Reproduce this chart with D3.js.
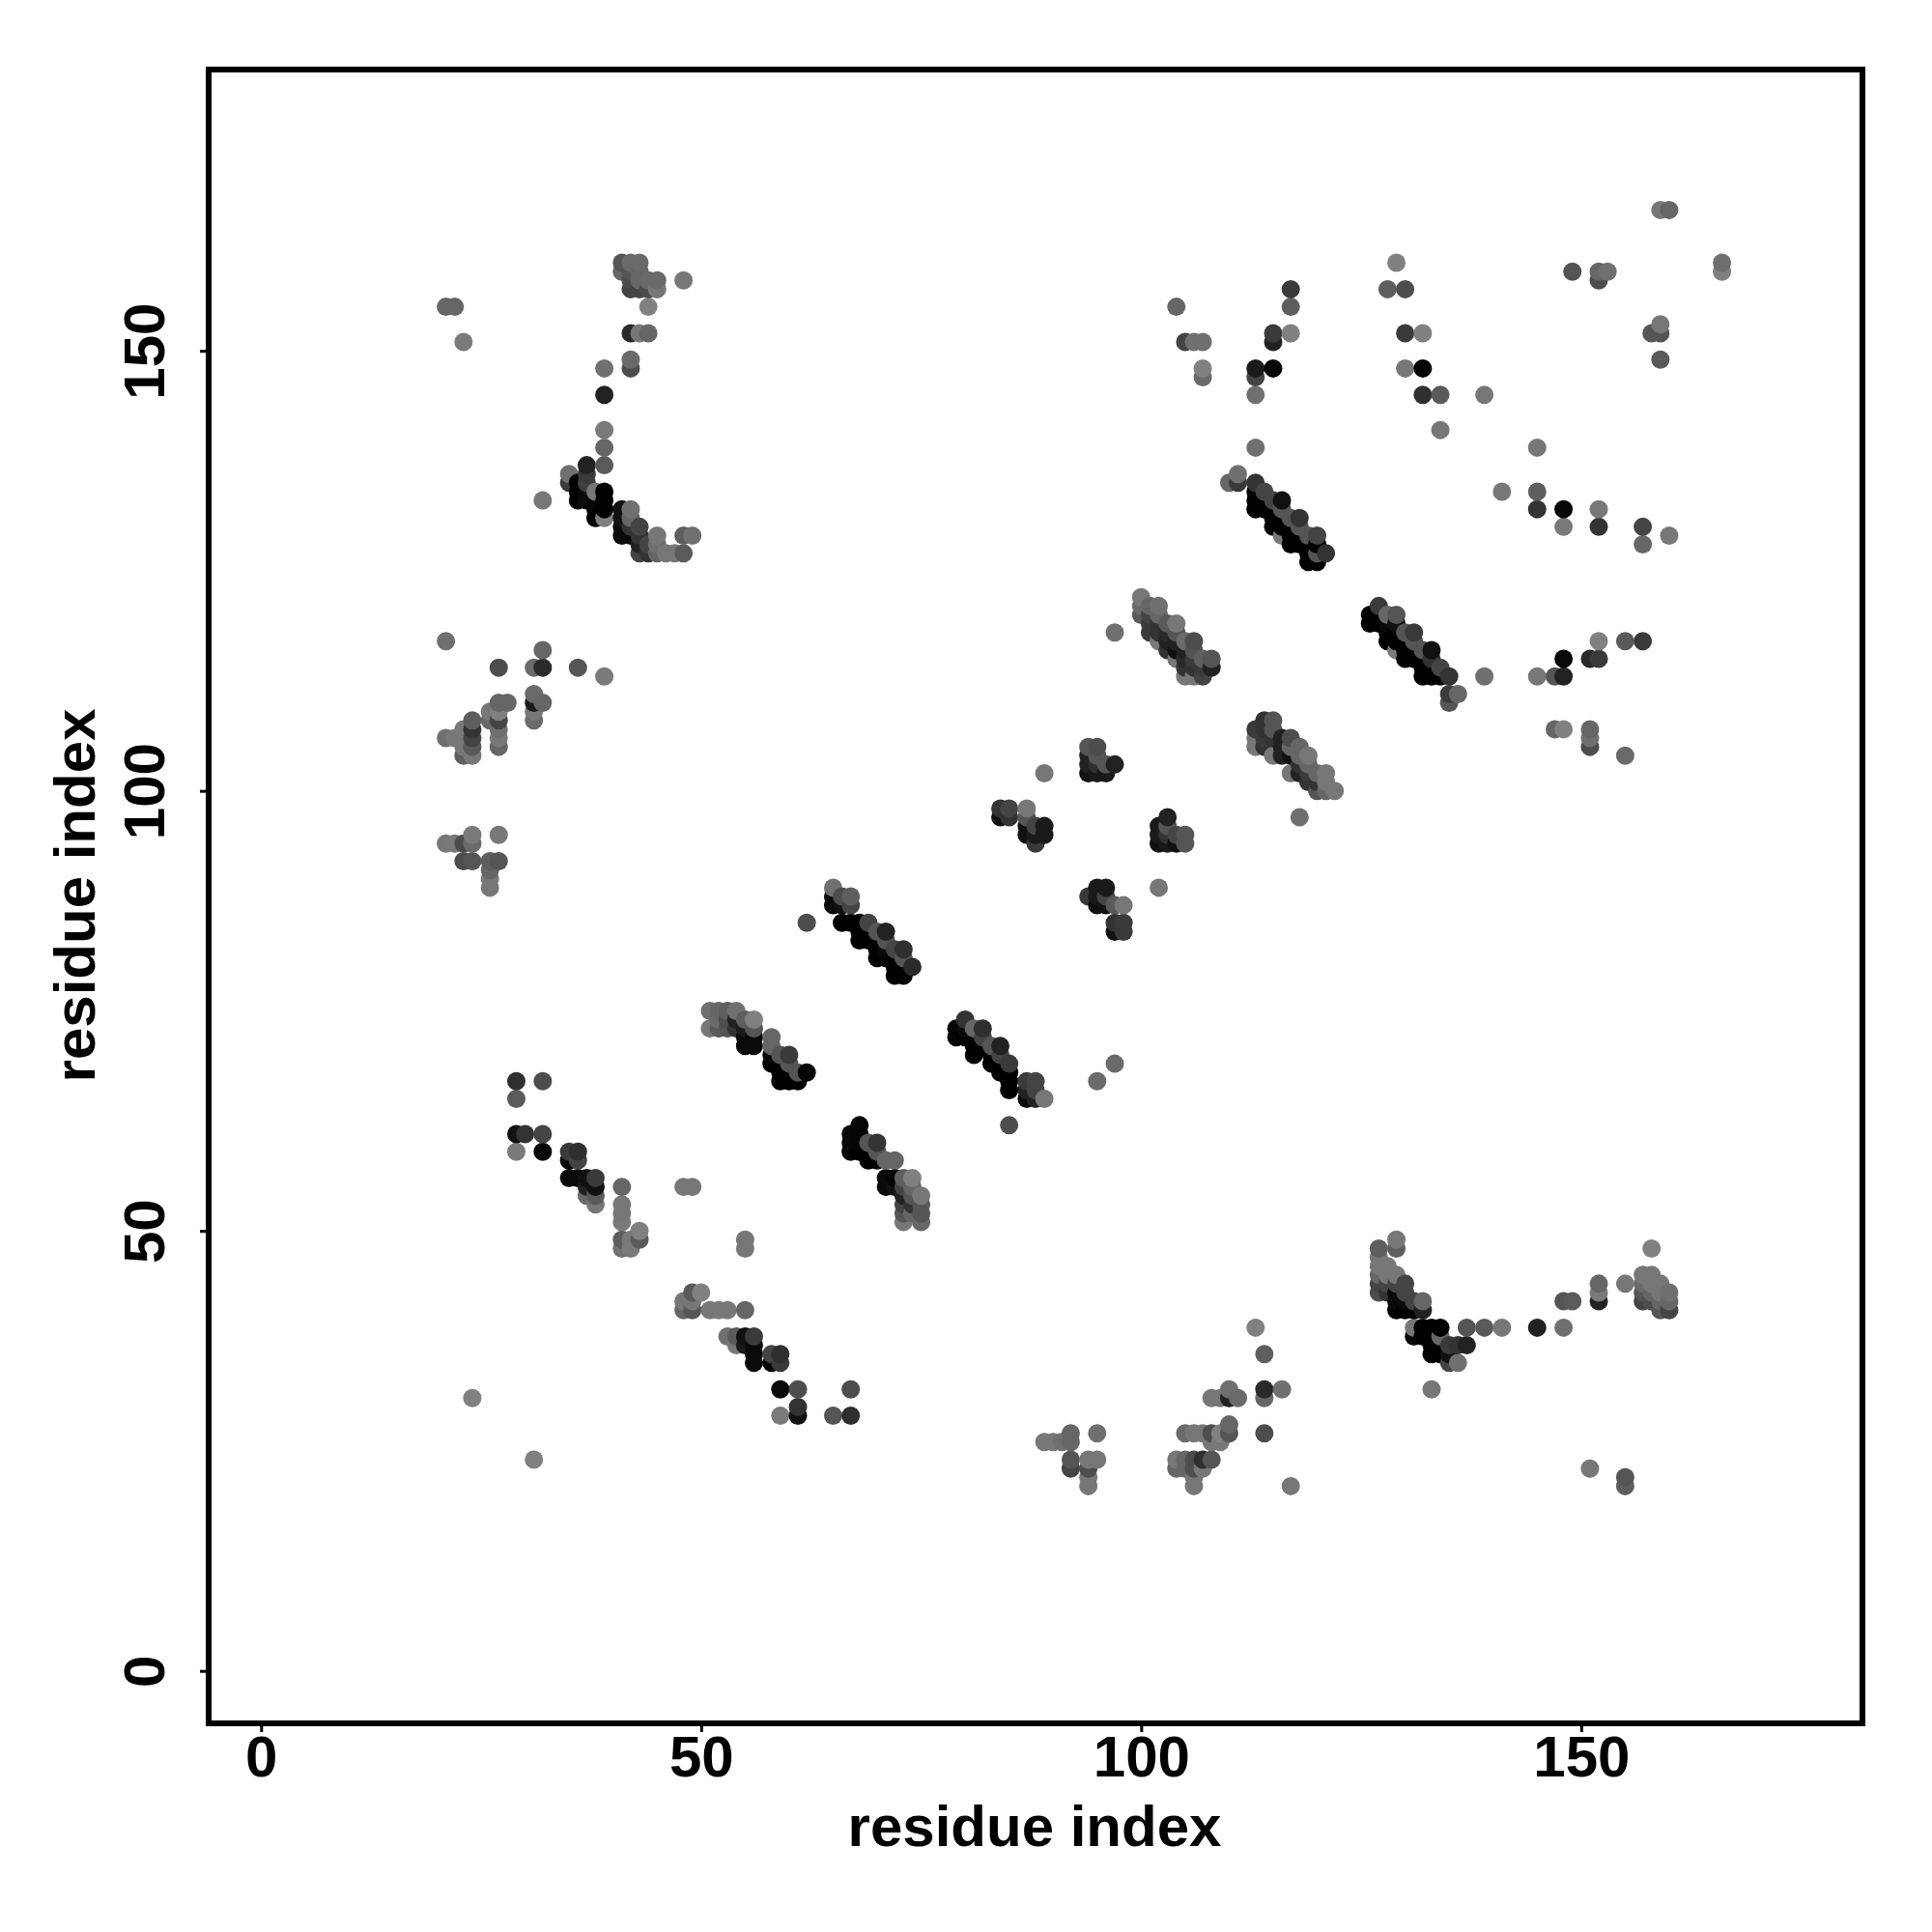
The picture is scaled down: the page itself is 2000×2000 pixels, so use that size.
<!DOCTYPE html>
<html>
<head>
<meta charset="utf-8">
<script src="https://cdn.jsdelivr.net/npm/d3@7/dist/d3.min.js"></script>
<style>html,body{margin:0;padding:0;background:#fff}svg{display:block}</style>
</head>
<body>
<svg id="chart" width="2000" height="2000"></svg>
<script>
// Each contact: [residue x, residue y, grey level]
const xTicks = [0, 50, 100, 150];
const yTicks = [0, 50, 100, 150];
const xTitle = "residue index";
const yTitle = "residue index";
const usrRange = [-5.96, 181.96];

const topLeft = [[21,155,102],[22,155,102],[23,151,122],
[41,160,85],[42,160,106],[43,160,106],[41,159,102],[42,159,85],[43,159,102],[42,158,77],[43,158,102],[44,158,106],[45,158,106],[42,157,68],[43,157,68],[44,157,77],[45,157,119],[48,158,119],
[44,155,128],[42,152,42],[43,152,119],[44,152,102],[42,149,106],[42,148,77],[39,148,112],[39,145,34],[39,141,122],[39,139,102],[39,137,90],
[37,137,34],[37,136,58],[37,135,63],[35,136,112],[35,135,58],[36,135,0],[36,134,0],[36,133,5],[37,134,10],[37,133,10],[38,134,119],[38,133,5],[38,132,0],[38,131,0],
[39,134,0],[39,133,0],[39,132,0],[39,131,128],[32,133,119],
[41,132,17],[42,132,112],[41,131,17],[41,130,10],[41,129,10],[42,131,102],[42,130,51],[42,129,10],[43,130,68],[43,129,51],[43,128,34],[43,127,68],[44,128,68],[44,127,51],[45,129,119],[45,128,111],[45,127,102],[46,127,119],[47,127,119],[48,127,90],[48,129,94],[49,129,112]];

const leftMid = [[21,117,112],[27,114,77],[31,114,106],[32,114,42],[32,116,102],[36,114,85],[39,113,122],
[31,111,106],[31,110,26],[32,110,102],[31,109,119],[31,108,106],
[27,110,102],[28,110,102],[26,109,119],[27,109,128],[26,108,102],[27,108,68],[27,107,111],[27,106,119],[27,105,102],
[24,108,94],[24,107,51],[24,106,68],[24,105,90],[24,104,119],[23,107,122],[23,106,119],[23,105,119],[23,104,94],[21,106,111],[22,106,119],
[24,95,122],[27,95,119],[21,94,119],[22,94,122],[23,94,77],[24,94,106],[23,92,77],[24,92,85],[26,92,94],[27,92,85],[26,91,102],[26,90,119],[26,89,119]];

const lowerLeft = [[29,67,47],[32,67,77],[29,65,90],[29,61,17],[30,61,51],[32,61,68],[29,59,122],[32,59,8],
[35,59,58],[36,59,47],[35,58,0],[36,58,68],[35,56,10],[36,56,10],[37,56,17],[38,56,58],[37,55,34],[38,55,17],[37,54,106],[38,54,90],[38,53,119],
[41,55,102],[41,53,119],[41,52,119],[41,51,122],[41,49,94],[41,48,112],[42,49,122],[42,48,122],[43,50,128],[43,49,90],[48,55,119],[49,55,119],[55,49,119],[55,48,119],
[49,43,90],[50,43,128],[48,42,119],[49,42,119],[48,41,102],[49,41,85],[51,41,119],[52,41,119],[53,41,119],[55,41,102],
[53,38,112],[54,38,90],[55,38,17],[56,38,58],[54,37,119],[55,37,26],[56,37,10],[56,36,10],[56,35,10],[58,36,68],[59,36,47],[58,35,0],[59,35,58],
[59,32,10],[61,32,77],[67,32,77],[61,30,51],[59,29,122],[61,29,17],[65,29,85],[67,29,47],[24,31,128],[31,24,128]];

const bandA = [[51,75,111],[52,75,102],[53,75,94],[54,75,112],[51,73,119],[52,74,106],[52,73,90],[53,74,77],[53,73,85],[54,74,34],[54,73,51],[55,74,94],[56,74,128],[56,73,85],[55,73,26],[55,72,10],[55,71,10],[56,72,10],[56,71,10],
[58,72,102],[58,71,102],[58,70,10],[58,69,0],[59,70,85],[59,69,0],[59,68,0],[59,67,0],[60,70,58],[60,69,85],[60,68,0],[60,67,0],[61,68,85],[61,67,0],[62,68,5]];

const bandB = [[62,85,77],[65,89,112],[65,88,10],[65,87,10],[66,88,77],[66,87,17],[67,88,94],[67,87,68],
[66,85,0],[67,85,0],[68,85,0],[68,84,0],[68,83,0],[69,85,68],[69,84,0],[69,83,0],[70,84,85],[70,83,0],[70,82,0],[70,81,0],[71,84,34],[71,83,85],[71,82,10],[71,81,0],[72,82,68],[72,81,0],[72,80,0],[72,79,0],[73,82,47],[73,81,85],[73,80,0],[73,79,0],[74,80,42]];

const bandC = [[80,74,51],[79,73,5],[79,72,5],[80,73,10],[80,72,0],[81,73,102],[81,72,0],[81,71,0],[81,70,0],[82,73,47],[82,72,68],[82,71,0],[83,71,85],[83,70,0],[83,69,0],[84,71,34],[84,70,68],[84,69,0],[84,68,0],[85,69,58],[85,68,0],[85,67,0],[85,66,0],
[87,67,58],[88,67,68],[87,66,34],[88,66,68],[87,65,10],[88,65,34],[89,65,119],[85,62,77],[97,69,106],[95,67,106]];

const bandD = [[68,62,5],[67,61,10],[67,60,10],[67,59,5],[68,61,5],[68,60,5],[68,59,0],[69,60,85],[70,60,51],[69,59,0],[70,59,85],[69,58,0],[70,58,0],[71,58,102],[72,58,102],
[71,56,10],[72,56,5],[71,55,10],[72,55,17],[73,56,94],[74,56,128],[73,55,68],[74,55,102],[73,54,34],[74,54,85],[75,54,119],[73,53,68],[74,53,51],[75,53,85],[73,52,85],[74,52,102],[75,52,85],[73,51,119],[75,51,102]];

const bandE = [[100,122,119],[100,121,106],[100,120,90],[101,121,102],[102,121,112],[102,120,102],[101,120,68],[101,119,58],[102,119,51],[101,118,58],[102,118,51],[102,117,122],[103,119,90],[104,119,119],[103,118,42],[104,118,85],[103,117,34],[104,117,34],[103,116,51],[105,117,106],[106,117,77],[104,116,17],[105,116,34],[105,115,42],[106,116,85],[104,115,119],[106,115,58],[107,115,94],[108,115,85],[105,114,51],[106,114,51],[107,114,58],[108,114,34],[105,113,119],[106,113,119],[107,113,68],[97,118,111]];

const bandF = [[114,108,51],[115,108,85],[113,107,58],[114,107,51],[115,107,85],[113,106,119],[113,105,119],[114,106,58],[114,105,51],[115,106,51],[116,106,34],[117,106,77],[116,105,34],[115,104,119],[117,105,102],[116,104,34],[117,104,17],[118,105,102],[118,104,102],[119,104,119],[117,102,119],[118,103,51],[119,103,102],[118,102,34],[119,102,58],[120,102,102],[121,102,119],[119,101,51],[120,101,51],[121,101,119],[120,100,85],[121,100,102],[122,100,119],[118,97,111]];

const blocks = [[94,105,85],[95,105,77],[94,104,34],[95,104,85],[94,103,34],[95,103,47],[96,103,85],[97,103,34],[94,102,17],[95,102,26],[96,102,26],[89,102,119],
[103,97,34],[102,96,26],[102,95,26],[102,94,17],[103,96,85],[103,95,51],[103,94,26],[104,95,68],[104,94,17],[105,95,85],[105,94,85],[102,89,119],
[87,98,119],[87,97,85],[88,96,68],[87,96,17],[87,95,17],[88,95,26],[89,96,26],[89,95,26],[88,94,58],[84,98,51],[85,98,68],[84,97,17],[85,97,51],
[95,89,26],[96,89,26],[94,88,58],[95,88,26],[96,88,68],[95,87,17],[96,87,17],[97,87,90],[98,87,119],[97,85,51],[98,85,58],[97,84,17],[98,84,58]];

const bandG = [[110,135,102],[111,135,58],[111,136,112],[113,135,51],[114,134,68],[113,134,0],[113,133,0],[113,132,0],[114,133,0],[114,132,0],[115,133,68],[116,133,17],[115,132,0],[115,131,0],[115,130,0],[116,132,85],[116,131,0],[116,130,0],[116,129,122],[117,131,85],[118,131,51],[117,130,0],[117,129,0],[117,128,0],[118,130,85],[118,129,0],[119,129,85],[120,129,68],[118,128,0],[119,128,0],[119,127,0],[119,126,0],[120,128,0],[120,127,85],[120,126,0],[121,127,51]];

const bandH = [[127,121,58],[126,120,0],[126,119,0],[127,120,0],[127,119,0],[128,120,102],[129,120,85],[128,119,10],[129,119,17],[128,118,0],[128,117,0],[129,118,0],[129,117,0],[129,116,122],[130,118,85],[131,118,58],[130,117,0],[130,116,0],[130,115,0],[131,117,85],[131,116,0],[131,115,0],[132,116,85],[133,116,17],[132,115,0],[132,114,0],[132,113,0],[133,115,51],[133,114,0],[133,113,0],[134,114,68],[134,113,0],[135,113,51],[135,111,58],[136,111,102],[135,110,85],[139,113,112]];

const upperRight = [[104,155,102],[105,151,68],[106,151,112],[107,151,112],[107,148,128],[107,147,106],[113,148,26],[113,147,68],[115,148,5],[113,145,112],[117,157,58],[117,155,94],[117,152,128],[115,152,58],[115,151,34],[113,139,112],
[129,160,128],[128,157,94],[130,157,77],[130,152,58],[132,152,128],[130,148,119],[132,148,0],[132,145,47],[134,145,90],[139,145,119],[134,141,119],
[149,159,85],[152,159,102],[152,158,77],[153,159,112],[159,166,119],[160,166,102],[166,160,111],[166,159,128],[159,153,119],[158,152,85],[159,152,85],[159,149,90],
[145,139,119],[141,134,119],[145,134,94],[145,132,51],[148,132,5],[148,130,122],[152,132,119],[152,130,51],[157,130,68],[157,128,102],[160,129,119]];

const rightMid = [[145,113,119],[147,113,85],[148,113,34],[148,115,10],[151,115,42],[152,115,58],[152,117,128],[155,117,90],[157,117,58],[147,107,102],[148,107,128],[151,107,102],[151,106,111],[151,105,77],[155,104,106]];

const lowerRight = [[129,49,119],[129,48,94],[127,48,94],[127,47,119],[127,46,119],[127,45,102],[127,44,68],[127,43,77],[128,46,119],[128,45,119],[128,44,68],[128,43,51],[129,45,119],[129,44,68],[129,43,10],[129,42,10],[129,41,0],[130,44,68],[130,43,68],[130,42,10],[130,41,0],[131,42,68],[131,41,0],[132,42,102],[132,41,34],
[131,39,119],[131,38,10],[132,39,0],[133,39,0],[134,39,0],[132,38,0],[133,38,0],[133,37,0],[133,36,0],[134,38,102],[134,37,0],[134,36,0],[135,37,58],[135,36,17],[135,35,68],[136,37,51],[136,35,112],[137,37,34],
[137,39,85],[139,39,90],[141,39,119],[145,39,34],[148,39,111],[133,32,119],[148,42,85],[149,42,90],[152,44,102],[152,43,122],[152,42,34],[155,44,119],[158,48,128],
[157,45,119],[158,45,119],[157,44,106],[158,44,119],[157,43,85],[158,43,102],[159,44,119],[159,43,119],[160,43,111],[157,42,68],[158,42,77],[159,42,102],[160,42,102],[159,41,85],[160,41,68],
[151,23,119],[155,22,85],[155,21,94]];

const lowerMid = [[113,39,128],[114,36,94],[114,32,42],[114,31,102],[116,32,112],[114,27,77],[117,21,119],[108,31,119],[109,31,119],[110,32,111],[110,31,34],[111,31,106],[110,28,102],[110,27,85],[109,27,128],[109,26,119],[108,26,119],[108,27,77],[105,27,106],[106,27,119],[107,27,119],
[104,24,119],[105,24,102],[106,24,77],[107,24,47],[108,24,85],[104,23,102],[105,23,102],[106,23,77],[107,23,119],[106,22,119],[106,21,119],
[89,26,119],[90,26,119],[91,26,111],[92,27,102],[92,26,102],[95,27,112],[92,24,85],[92,23,68],[94,24,119],[95,24,119],[94,23,77],[94,22,119],[94,21,119]];

const contacts = [].concat(topLeft, leftMid, lowerLeft, bandA, bandB, bandC, bandD, bandE, bandF, blocks, bandG, bandH, upperRight, rightMid, lowerRight, lowerMid)
  .sort((a, b) => d3.ascending(a[0], b[0]) || d3.ascending(a[1], b[1]));

const frame = {left: 216, right: 1928, top: 72, bottom: 1784};
const font = '"Liberation Sans", Arial, sans-serif';
const svg = d3.select("#chart");
const x = d3.scaleLinear().domain(usrRange).range([frame.left, frame.right]);
const y = d3.scaleLinear().domain(usrRange).range([frame.bottom, frame.top]);

svg.append("rect").attr("width", 2000).attr("height", 2000).attr("fill", "#fff");

svg.append("g").selectAll("circle").data(contacts).join("circle")
  .attr("cx", d => x(d[0])).attr("cy", d => y(d[1])).attr("r", 9.5)
  .attr("fill", d => d3.rgb(d[2], d[2], d[2]));

const gx = svg.append("g").attr("transform", `translate(0,${frame.bottom})`)
  .call(d3.axisBottom(x).tickValues(xTicks).tickSize(9).tickSizeOuter(0).tickFormat(d3.format("d")));
const gy = svg.append("g").attr("transform", `translate(${frame.left},0)`)
  .call(d3.axisLeft(y).tickValues(yTicks).tickSize(9).tickSizeOuter(0).tickFormat(d3.format("d")));
[gx, gy].forEach(g => {
  g.select(".domain").remove();
  g.selectAll("line").attr("stroke", "#000").attr("stroke-width", 3);
  g.selectAll("text").attr("fill", "#000").attr("font-family", font).attr("font-weight", "bold").attr("font-size", 60);
});
gx.selectAll("text").attr("y", 55).attr("dy", 0).attr("text-anchor", "middle");
gy.selectAll("text").attr("x", 0).attr("y", 0).attr("dy", 0).attr("text-anchor", "middle")
  .attr("transform", "translate(-46,0) rotate(-90)");

svg.append("rect").attr("x", frame.left).attr("y", frame.top)
  .attr("width", frame.right - frame.left).attr("height", frame.bottom - frame.top)
  .attr("fill", "none").attr("stroke", "#000").attr("stroke-width", 6);

svg.append("text").text(xTitle).attr("x", 1071).attr("y", 1911)
  .attr("text-anchor", "middle").attr("font-family", font).attr("font-weight", "bold").attr("font-size", 60).attr("fill", "#000");
svg.append("text").text(yTitle).attr("transform", "translate(98,927) rotate(-90)")
  .attr("text-anchor", "middle").attr("font-family", font).attr("font-weight", "bold").attr("font-size", 60).attr("fill", "#000");
</script>
</body>
</html>
